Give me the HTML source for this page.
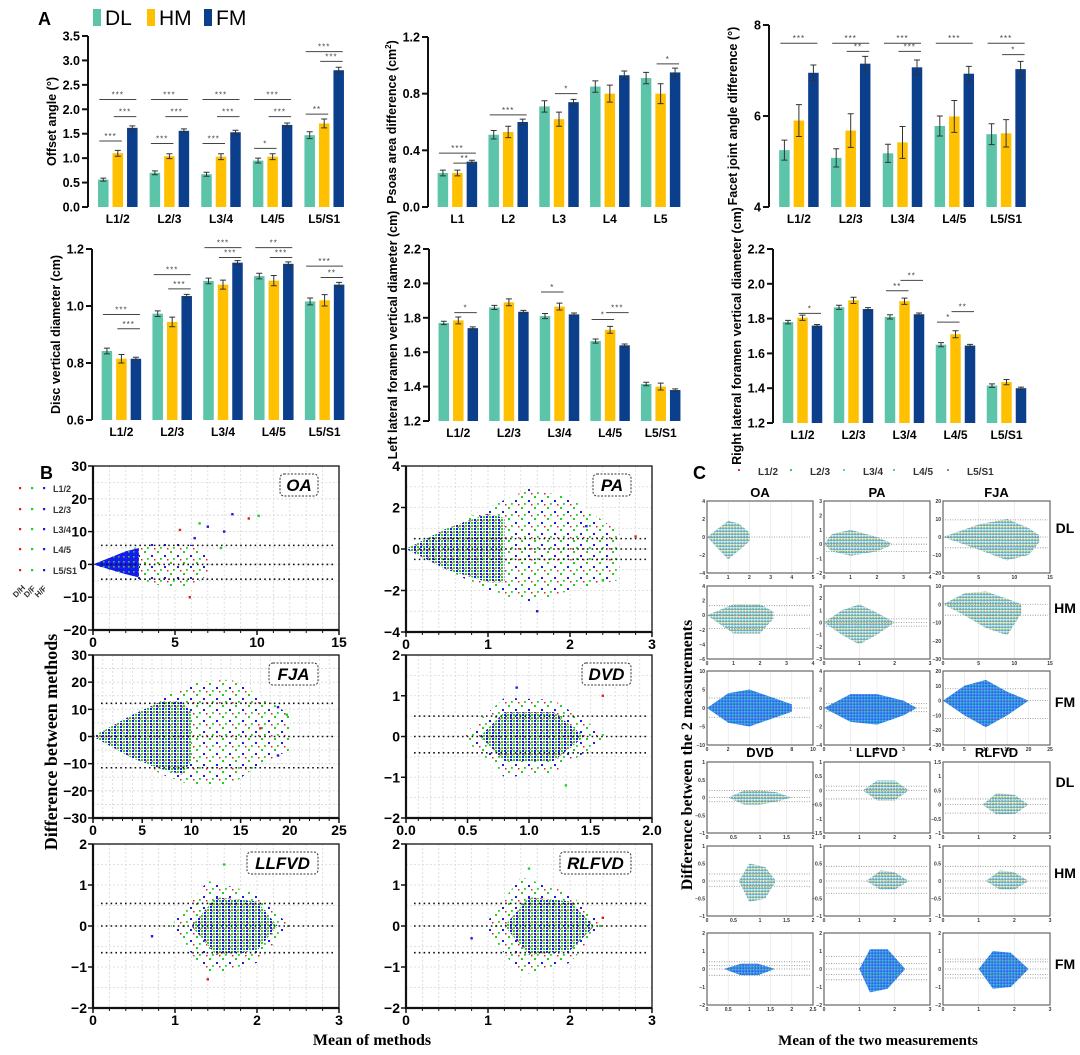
<!DOCTYPE html>
<html><head><meta charset="utf-8"><style>
html,body{margin:0;padding:0;background:#fff;}
svg{display:block;font-family:"Liberation Sans",sans-serif;}
</style></head><body>
<svg id="fig" xmlns="http://www.w3.org/2000/svg" width="1080" height="1055" viewBox="0 0 1080 1055">
<defs>
<pattern id="pBlue" width="5" height="5" patternUnits="userSpaceOnUse"><rect width="5" height="5" fill="#1818f0"/><rect x="3" y="1" width="1.6" height="1.6" fill="#2ed02e"/></pattern>
<pattern id="pMix" width="6" height="6" patternUnits="userSpaceOnUse"><rect width="6" height="6" fill="#fff"/><rect x="0" y="0" width="2" height="2" fill="#1a1ae8"/><rect x="3" y="3" width="2" height="2" fill="#22d022"/><rect x="3" y="0" width="2" height="2" fill="#22d022"/><rect x="0" y="3" width="2" height="2" fill="#1a1ae8"/><rect x="1.5" y="4.5" width="1.3" height="1.3" fill="#e02020"/></pattern>
<pattern id="pHalo" width="13" height="11" patternUnits="userSpaceOnUse"><rect width="13" height="11" fill="#fff"/><rect x="1" y="1" width="2" height="2" fill="#22d022"/><rect x="8" y="5" width="2" height="2" fill="#1a1ae8"/><rect x="4" y="8" width="1.8" height="1.8" fill="#22d022"/><rect x="11" y="9" width="1.5" height="1.5" fill="#e02020"/></pattern>
<pattern id="pC" width="3" height="3" patternUnits="userSpaceOnUse"><rect width="3" height="3" fill="#fff"/><rect x="0" y="0" width="1.2" height="1.2" fill="#20c8c8"/><rect x="1.6" y="1.6" width="1.2" height="1.2" fill="#30c850"/><rect x="1.6" y="0" width="1" height="1" fill="#4a5ae8"/><rect x="0" y="1.8" width="0.9" height="0.9" fill="#e05050"/></pattern>
<pattern id="pCd" width="3" height="3" patternUnits="userSpaceOnUse"><rect width="3" height="3" fill="#3c8cf0"/><rect x="0" y="0" width="1.2" height="1.2" fill="#30d0b0"/><rect x="1.6" y="1.6" width="1.2" height="1.2" fill="#3040f0"/></pattern>
</defs>
</svg>
<script>
// ===== Panel A data =====
const catsL = ["L1/2","L2/3","L3/4","L4/5","L5/S1"];
const catsP = ["L1","L2","L3","L4","L5"];
const a1DL=[0.56,0.70,0.67,0.95,1.47], a1HM=[1.10,1.04,1.03,1.03,1.71], a1FM=[1.62,1.56,1.53,1.68,2.80];
const a1eDL=[0.03,0.04,0.04,0.05,0.07], a1eHM=[0.06,0.05,0.06,0.06,0.09], a1eFM=[0.04,0.04,0.04,0.04,0.06];
const a1Ticks=[0,0.5,1,1.5,2,2.5,3,3.5], a1TickLbl=["0.0","0.5","1.0","1.5","2.0","2.5","3.0","3.5"];
const a1Sig=[[0,0,2,2.2,"***"],[0,1,2,1.85,"***"],[0,0,1,1.35,"***"],[1,0,2,2.2,"***"],[1,1,2,1.85,"***"],[1,0,1,1.3,"***"],[2,0,2,2.2,"***"],[2,1,2,1.85,"***"],[2,0,1,1.3,"***"],[3,0,2,2.2,"***"],[3,1,2,1.85,"***"],[3,0,1,1.2,"*"],[4,0,2,3.18,"***"],[4,1,2,2.98,"***"],[4,0,1,1.9,"**"]];
const a2DL=[0.24,0.51,0.71,0.85,0.91], a2HM=[0.24,0.53,0.62,0.80,0.80], a2FM=[0.32,0.60,0.74,0.93,0.95];
const a2eDL=[0.02,0.03,0.04,0.04,0.04], a2eHM=[0.02,0.04,0.05,0.06,0.07], a2eFM=[0.01,0.02,0.02,0.03,0.03];
const a2Ticks=[0,0.4,0.8,1.2], a2TickLbl=["0.0","0.4","0.8","1.2"];
const a2Sig=[[0,0,2,0.38,"***"],[0,1,2,0.31,"**"],[1,0,2,0.65,"***"],[2,1,2,0.80,"*"],[4,1,2,1.01,"*"]];
const a3DL=[5.25,5.08,5.18,5.78,5.60], a3HM=[5.90,5.68,5.42,5.99,5.62], a3FM=[6.95,7.15,7.07,6.93,7.03];
const a3eDL=[0.22,0.2,0.2,0.22,0.23], a3eHM=[0.35,0.37,0.35,0.35,0.3], a3eFM=[0.17,0.16,0.16,0.16,0.17];
const a3Ticks=[4,6,8], a3TickLbl=["4","6","8"];
const a3Sig=[[0,0,2,7.6,"***"],[1,0,2,7.6,"***"],[1,1,2,7.42,"**"],[2,0,2,7.6,"***"],[2,1,2,7.42,"***"],[3,0,2,7.6,"***"],[4,0,2,7.6,"***"],[4,1,2,7.35,"*"]];
const a4DL=[0.842,0.973,1.088,1.105,1.016], a4HM=[0.815,0.944,1.075,1.089,1.02], a4FM=[0.815,1.035,1.152,1.148,1.075];
const a4eDL=[0.01,0.01,0.01,0.01,0.012], a4eHM=[0.015,0.017,0.016,0.018,0.02], a4eFM=[0.005,0.006,0.007,0.007,0.008];
const a4Ticks=[0.6,0.8,1.0,1.2], a4TickLbl=["0.6","0.8","1.0","1.2"];
const a4Sig=[[0,0,2,0.97,"***"],[0,1,2,0.92,"***"],[1,0,2,1.11,"***"],[1,1,2,1.06,"***"],[2,0,2,1.205,"***"],[2,1,2,1.17,"***"],[3,0,2,1.205,"**"],[3,1,2,1.17,"***"],[4,0,2,1.14,"***"],[4,1,2,1.10,"**"]];
const a5DL=[1.77,1.86,1.81,1.665,1.415], a5HM=[1.785,1.89,1.865,1.73,1.40], a5FM=[1.74,1.835,1.82,1.64,1.38];
const a5eDL=[0.01,0.012,0.015,0.012,0.01], a5eHM=[0.02,0.02,0.02,0.02,0.02], a5eFM=[0.007,0.008,0.008,0.008,0.007];
const a5Ticks=[1.2,1.4,1.6,1.8,2.0,2.2], a5TickLbl=["1.2","1.4","1.6","1.8","2.0","2.2"];
const a5Sig=[[0,1,2,1.83,"*"],[2,0,1,1.95,"*"],[3,0,1,1.79,"*"],[3,1,2,1.83,"***"]];
const a6DL=[1.78,1.865,1.81,1.65,1.415], a6HM=[1.805,1.905,1.90,1.71,1.435], a6FM=[1.76,1.855,1.825,1.645,1.40];
const a6eDL=[0.01,0.012,0.012,0.012,0.01], a6eHM=[0.015,0.018,0.018,0.02,0.015], a6eFM=[0.006,0.008,0.007,0.007,0.006];
const a6Sig=[[0,1,2,1.83,"*"],[2,0,1,1.96,"**"],[2,1,2,2.02,"**"],[3,0,1,1.78,"*"],[3,1,2,1.84,"**"]];

// ===== Panel B data =====
const bTitles=["OA","PA","FJA","DVD","LLFVD","RLFVD"];
const bXTicks=[[0,5,10,15],[0,1,2,3],[0,5,10,15,20,25],[0,0.5,1,1.5,2],[0,1,2,3],[0,1,2,3]];
const bXTickLbl=[["0","5","10","15"],["0","1","2","3"],["0","5","10","15","20","25"],["0.0","0.5","1.0","1.5","2.0"],["0","1","2","3"],["0","1","2","3"]];
const bYTicks=[[-20,-10,0,10,20,30],[-4,-2,0,2,4],[-30,-20,-10,0,10,20,30],[-2,-1,0,1,2],[-2,-1,0,1,2],[-2,-1,0,1,2]];
const bLimits=[[5.8,0,-4.5],[0.5,0,-0.5],[12.2,0,-11.5],[0.5,0,-0.4],[0.55,0,-0.65],[0.55,0,-0.65]];
const bCoreX=[[0,1,2,2.8],[0,0.5,1,1.2],[0,4,7,9,10],[0.6,0.8,1.2,1.45],[1.2,1.5,2,2.25],[1.2,1.5,2,2.3]];
const bCoreHi=[[0,2,4,5],[0,1,1.7,1.5],[0,8,13,13,9],[0,0.6,0.6,0],[0,0.7,0.6,0],[0,0.7,0.6,0]];
const bCoreLo=[[0,-1.5,-3,-4],[0,-1,-1.6,-1.6],[0,-8,-12,-14,-9],[0,-0.6,-0.6,0],[0,-0.7,-0.6,0],[0,-0.7,-0.6,0]];
const bHaloX=[[0,3,4.5,6,7],[0,1,1.5,2,2.6],[0,7,10,14,17,20],[0.45,0.8,1.2,1.65],[0.95,1.4,2,2.4],[0.95,1.4,2,2.4]];
const bHaloHi=[[0,6,7,6,3],[0,2,2.9,2.5,0.8],[0,14,20,21,15,8],[0,0.95,0.9,0],[0,1.1,0.8,0],[0,1.2,0.8,0]];
const bHaloLo=[[0,-5,-7,-7,-3],[0,-2,-2.6,-2,-1.5],[0,-14,-18,-18,-10,-5],[0,-1,-0.9,0],[0,-1.2,-0.9,0],[0,-1.2,-0.9,0]];
const bOutX=[[8.5,10.1,9.5,7,6.5,5.9,8,7.8,5.3,6.2],[2.2,2.4,2.8,1.6],[18.8,19.7,17,18.8],[0.9,1.3,1.6],[0.72,1.6,1.4],[0.8,1.5,2.4]];
const bOutY=[[15.3,14.8,14,11.5,12.5,-10,10,5,10.5,8],[1.1,-1.5,0.6,-3],[10.8,8,3,-7],[1.2,-1.2,1],[-0.25,1.5,-1.3],[-0.3,1.4,0.2]];
const bXDom=[[0,15],[0,3],[0,25],[0,2],[0,3],[0,3]];
const bYDom=[[-20,30],[-4,4],[-30,30],[-2,2],[-2,2],[-2,2]];
const bXMinor=[1,0.2,1,0.1,0.2,0.2];

// ===== Panel C data =====
const cColTitles=["OA","PA","FJA","DVD","LLFVD","RLFVD"];
const cRowTitles=["DL","HM","FM","DL","HM","FM"];
const cXDom=[[0,5],[0,4],[0,15],[0,4],[0,3],[0,15],[0,10],[0,4],[0,25],[0,2],[0,3],[0,3],[0,2],[0,3],[0,3],[0,2.5],[0,3],[0,3]];
const cYDom=[[-4,4],[-2,3],[-20,20],[-6,4],[-3,3],[-30,10],[-10,10],[-4,4],[-30,20],[-1,1],[-1.5,1],[-1,1.5],[-1,1],[-1,1],[-1,1],[-2,2],[-2,2],[-2,2]];
const cXStep=[1,1,5,1,1,5,2,1,5,0.5,1,1,0.5,1,1,0.5,1,1];
const cYStep=[2,1,10,2,1,10,5,2,10,0.5,0.5,0.5,0.5,0.5,0.5,1,1,1];
const cLimits=[[0],[0.45,0,-0.5],[9.5,0,-6],[1.3,0,-1.8],[0.3,0,-0.3],[0,-6],[2.7,0,-2.5],[0.5,0,-0.4],[8,0,-12],[0.2,0,-0.12],[0.15,0,-0.3],[0.2,0,-0.3],[0.2,0,-0.15],[0.42,0.2,0,-0.2,-0.35],[0.42,0.2,0,-0.2,-0.35],[0.4,0.2,0,-0.35],[0.7,0.3,0,-0.3,-0.6],[0.55,0.4,0,-0.3,-0.5]];
const cEnvX=[[0,1,1.5,2],[0,0.3,1,2,2.5],[0,5,9,12,13.5],[0,1,2,2.5],[0,0.5,1,1.5,2],[0,3,6,9,11],[0,2,4,6,8],[0,1,2,3,3.5],[0,5,10,15,20],[0.4,0.7,1,1.3,1.6],[1.1,1.5,2,2.4],[1.1,1.5,2,2.4],[0.6,0.8,1.1,1.3],[1.2,1.6,2,2.4],[1.2,1.6,2,2.4],[0.4,0.8,1.2,1.6],[1,1.3,1.8,2.3],[1,1.4,1.9,2.4]];
const cEnvHi=[[0,1.8,1.5,0.5],[0,0.7,1,0.5,0.1],[0,7,10,5,1],[0,1.5,1.5,0.5],[0,1,1.5,0.8,0],[0,6,7,3,0],[0,4,5,3,1],[0,1.5,1.5,0.8,0],[0,10,14,6,0],[0,0.2,0.2,0.15,0],[0,0.35,0.35,0],[0,0.4,0.35,0],[0,0.5,0.4,0],[0,0.3,0.25,0],[0,0.3,0.25,0],[0,0.3,0.3,0],[0,1.1,1.1,0],[0,1,0.9,0]];
const cEnvLo=[[0,-2.5,-1.5,-0.5],[0,-0.5,-0.8,-0.5,-0.1],[0,-7,-13,-10,-3],[0,-2.5,-2.5,-0.5],[0,-1,-1.8,-1,0],[0,-6,-13,-17,-5],[0,-4,-5,-3,-1],[0,-1.5,-1.8,-0.8,0],[0,-10,-18,-10,0],[0,-0.2,-0.2,-0.12,0],[0,-0.35,-0.35,0],[0,-0.35,-0.35,0],[0,-0.6,-0.5,0],[0,-0.25,-0.25,0],[0,-0.25,-0.25,0],[0,-0.35,-0.35,0],[0,-1.3,-1.1,0],[0,-1.1,-1,0]];

// ===== helpers =====
const NS="http://www.w3.org/2000/svg";
const svg=document.getElementById('fig');
function mk(tag,attrs,parent){const e=document.createElementNS(NS,tag);for(const k in attrs)e.setAttribute(k,attrs[k]);(parent||svg).appendChild(e);return e;}
function txt(s,attrs,parent){const t=mk('text',attrs,parent);t.textContent=s;return t;}
const COL=["#5cc4a8","#ffc000","#0b3f8c"];
const fmtMinus=v=>String(v).replace('-','\u2212');

// ===== panel labels & legend =====
let t;
t=txt("A",{x:38,y:25,"font-size":18,"font-weight":"bold"});


t=txt("B",{x:40,y:479,"font-size":18,"font-weight":"bold"});


t=txt("C",{x:693,y:479,"font-size":18,"font-weight":"bold"});


const legNames=["DL","HM","FM"], legX=[93,147,204];
for(let i=0;i<3;i++){
  const g=mk('g',{});
  
  
  const r=mk('rect',{x:legX[i],y:9,width:8,height:17,fill:COL[i]},g);
  
  
  const tt=txt(legNames[i],{x:legX[i]+12,y:25,"font-size":21},g);
  
  
}

// ===== bar chart =====
function barChart(name,geo,cats,dl,hm,fm,edl,ehm,efm,ticks,tickLbl,sig,title){
  const g=mk('g',{});
  
  
  const y=v=>geo.bot-(v-geo.min)/(geo.max-geo.min)*(geo.bot-geo.top);
  const gw=(geo.x1-geo.ax-4)/cats.length;
  const cx=i=>geo.ax+4+(i+0.5)*gw;
  const bw=10.5, step=14.5;
  const bx=(i,j)=>cx(i)+(j-1)*step;
  const series=[dl,hm,fm], errs=[edl,ehm,efm], sn=["dl","hm","fm"];
  for(let i=0;i<cats.length;i++){
    for(let j=0;j<3;j++){
      const v=series[j][i], e=errs[j][i];
      const r=mk('rect',{x:bx(i,j)-bw/2,y:y(v),width:bw,height:geo.bot-y(v),fill:COL[j]},g);
      
      
      const eb=mk('path',{d:`M${bx(i,j)},${y(v+e)}V${y(v-e)}M${bx(i,j)-3},${y(v+e)}h6M${bx(i,j)-3},${y(v-e)}h6`,stroke:"#333",fill:"none","stroke-width":1},g);
      
      
    }
    const lb=txt(cats[i],{x:cx(i),y:geo.bot+16,"font-size":12,"font-weight":"bold","text-anchor":"middle"},g);
    
    
  }
  for(const s of sig){
    const x1=bx(s[0],s[1])-4, x2=bx(s[0],s[2])+4, yy=y(s[3]);
    const l=mk('line',{x1:x1,x2:x2,y1:yy,y2:yy,stroke:"#444","stroke-width":1},g);
    
    
    const st=txt(s[4],{x:(x1+x2)/2,y:yy-2,"font-size":8,fill:"#444","text-anchor":"middle","letter-spacing":"1"},g);
    
    
  }
  const ax=mk('line',{x1:geo.ax,x2:geo.ax,y1:y(geo.max),y2:geo.bot,stroke:"#111","stroke-width":2},g);
  
  
  ticks.forEach((v,k)=>{
    const tk=mk('line',{x1:geo.ax-6,x2:geo.ax,y1:y(v),y2:y(v),stroke:"#111","stroke-width":2},g);
    
    
    const tl=txt(tickLbl[k],{x:geo.ax-8,y:y(v)+4.5,"font-size":12.5,"font-weight":"bold","text-anchor":"end"},g);
    
    
  });
  const ty=(geo.top+geo.bot)/2, tx=geo.ax-32;
  const yt=txt("",{x:tx,y:ty,"font-size":12.5,"font-weight":"bold","text-anchor":"middle",transform:`rotate(-90 ${tx} ${ty})`},g);
  yt.innerHTML=title;
  
  
}
barChart('offset-angle-chart',{ax:88,x1:350,top:36,bot:207,min:0,max:3.5},catsL,a1DL,a1HM,a1FM,a1eDL,a1eHM,a1eFM,a1Ticks,a1TickLbl,a1Sig,"Offset angle (°)");
barChart('psoas-area-chart',{ax:428,x1:686,top:37,bot:207,min:0,max:1.2},catsP,a2DL,a2HM,a2FM,a2eDL,a2eHM,a2eFM,a2Ticks,a2TickLbl,a2Sig,"Psoas area difference (cm<tspan font-size='8' dy='-5'>2</tspan><tspan dy='5'>)</tspan>");
barChart('facet-joint-chart',{ax:769,x1:1032,top:25,bot:207,min:4,max:8},catsL,a3DL,a3HM,a3FM,a3eDL,a3eHM,a3eFM,a3Ticks,a3TickLbl,a3Sig,"Facet joint angle difference (°)");
barChart('disc-vertical-chart',{ax:92,x1:350,top:249,bot:420,min:0.6,max:1.2},catsL,a4DL,a4HM,a4FM,a4eDL,a4eHM,a4eFM,a4Ticks,a4TickLbl,a4Sig,"Disc vertical diameter (cm)");
barChart('left-foramen-chart',{ax:429,x1:686,top:249,bot:421,min:1.2,max:2.2},catsL,a5DL,a5HM,a5FM,a5eDL,a5eHM,a5eFM,a5Ticks,a5TickLbl,a5Sig,"Left lateral foramen vertical diameter (cm)");
barChart('right-foramen-chart',{ax:773,x1:1032,top:249,bot:423,min:1.2,max:2.2},catsL,a6DL,a6HM,a6FM,a6eDL,a6eHM,a6eFM,a5Ticks,a5TickLbl,a6Sig,"Right lateral foramen vertical diameter (cm)");

// ===== Panel B =====
const bGeo=[[93,339,466,630],[406,652,466,632],[93,339,655,818],[406,652,655,818],[93,339,844,1008],[406,652,844,1008]];
function envPath(xs,hi,lo,X,Y){let d="M"+X(xs[0])+","+Y(hi[0]);for(let i=1;i<xs.length;i++)d+="L"+X(xs[i])+","+Y(hi[i]);for(let i=xs.length-1;i>=0;i--)d+="L"+X(xs[i])+","+Y(lo[i]);return d+"Z";}
for(let p=0;p<6;p++){
  const [x0,x1,y0,y1]=bGeo[p];
  const X=v=>x0+(v-bXDom[p][0])/(bXDom[p][1]-bXDom[p][0])*(x1-x0);
  const Y=v=>y1-(v-bYDom[p][0])/(bYDom[p][1]-bYDom[p][0])*(y1-y0);
  const g=mk('g',{});
  
  
  const bg=mk('rect',{x:x0,y:y0,width:x1-x0,height:y1-y0,fill:"#fff"},g);
  
  
  for(let v=bXDom[p][0]+bXMinor[p];v<bXDom[p][1]-1e-9;v+=bXMinor[p]){
    const gl=mk('line',{x1:X(v),x2:X(v),y1:y0,y2:y1,stroke:"#d8d8d8","stroke-width":0.8,"stroke-dasharray":"2,2"},g);
    
    
    const mt=mk('line',{x1:X(v),x2:X(v),y1:y1,y2:y1+3,stroke:"#111","stroke-width":1},g);
    
    
  }
  const yt=bYTicks[p], ys=(yt[1]-yt[0])/2;
  for(let v=yt[0]+ys;v<yt[yt.length-1];v+=ys){
    const gl=mk('line',{x1:x0,x2:x1,y1:Y(v),y2:Y(v),stroke:"#d8d8d8","stroke-width":0.8,"stroke-dasharray":"2,2"},g);
    
    
  }
  const halo=mk('path',{d:envPath(bHaloX[p],bHaloHi[p],bHaloLo[p],X,Y),fill:"url(#pHalo)"},g);
  
  
  const core=mk('path',{d:envPath(bCoreX[p],bCoreHi[p],bCoreLo[p],X,Y),fill:p===0?"url(#pBlue)":"url(#pMix)"},g);
  
  
  const oc=["#1a1ae8","#22d022","#e02020"];
  bOutX[p].forEach((v,k)=>{
    const pt=mk('rect',{x:X(v)-1.2,y:Y(bOutY[p][k])-1.2,width:2.4,height:2.4,fill:oc[k%3]},g);
    
    
  });
  bLimits[p].forEach(v=>{
    const l=mk('line',{x1:x0+8,x2:x1-6,y1:Y(v),y2:Y(v),stroke:"#111","stroke-width":1.6,"stroke-dasharray":"1.6,3.2"},g);
    
    
  });
  const fr=mk('rect',{x:x0,y:y0,width:x1-x0,height:y1-y0,fill:"none",stroke:"#111","stroke-width":1.3},g);
  
  
  const ax=mk('path',{d:`M${x0},${y0}V${y1}H${x1}`,fill:"none",stroke:"#111","stroke-width":2.2},g);
  
  
  bXTicks[p].forEach((v,k)=>{
    const tk=mk('line',{x1:X(v),x2:X(v),y1:y1,y2:y1+5,stroke:"#111","stroke-width":1.5},g);
    
    
    const tl=txt(bXTickLbl[p][k],{x:X(v),y:y1+17,"font-size":14,"font-weight":"bold","text-anchor":"middle"},g);
    
    
  });
  bYTicks[p].forEach(v=>{
    const tk=mk('line',{x1:x0-5,x2:x0,y1:Y(v),y2:Y(v),stroke:"#111","stroke-width":1.5},g);
    
    
    const tl=txt(fmtMinus(v),{x:x0-6,y:Y(v)+5,"font-size":14,"font-weight":"bold","text-anchor":"end"},g);
    
    
  });
  const bw=bTitles[p].length*11+16;
  const box=mk('rect',{x:x1-21-bw,y:y0+8,width:bw,height:22,rx:4,fill:"#fff",stroke:"#333","stroke-width":1,"stroke-dasharray":"2,1.5"},g);
  
  
  const bl=txt(bTitles[p],{x:x1-21-bw/2,y:y0+25,"font-size":17,"font-weight":"bold","font-style":"italic","text-anchor":"middle"},g);
  
  
}
// B legend
const bLegNames=["L1/2","L2/3","L3/4","L4/5","L5/S1"], bLegY=[490,511,531,551,572];
bLegNames.forEach((n,i)=>{
  const g=mk('g',{});
  
  
  ["#e02020","#22d022","#1a1ae8"].forEach((c,k)=>{
    const d=mk('rect',{x:19+k*12,y:bLegY[i]-3,width:2.2,height:2.2,fill:c},g);
    
    
  });
  const tl=txt(n,{x:53,y:bLegY[i]+2,"font-size":9,"font-weight":"bold",fill:"#333"},g);
  
  
});
["D/H","D/F","H/F"].forEach((n,k)=>{
  const x=16+k*11, y=598;
  const tl=txt(n,{x:x,y:y,"font-size":8,"font-weight":"bold",fill:"#333",transform:`rotate(-45 ${x} ${y})`});
  
  
});
t=txt("Difference between methods",{x:57,y:742,"font-family":"Liberation Serif, serif","font-size":18,"font-weight":"bold","text-anchor":"middle",transform:"rotate(-90 57 742)"});


t=txt("Mean of methods",{x:372,y:1045,"font-family":"Liberation Serif, serif","font-size":16,"font-weight":"bold","text-anchor":"middle"});



// ===== Panel C =====
const cCols=[[707,813],[824,930],[943,1050]];
const cRows=[[501,573],[586,659],[671,745],[762,833],[846,916],[933,1005]];
for(let p=0;p<18;p++){
  const r=Math.floor(p/3), c=p%3;
  const [x0,x1]=cCols[c], [y0,y1]=cRows[r];
  const X=v=>x0+(v-cXDom[p][0])/(cXDom[p][1]-cXDom[p][0])*(x1-x0);
  const Y=v=>y1-(v-cYDom[p][0])/(cYDom[p][1]-cYDom[p][0])*(y1-y0);
  const g=mk('g',{});
  
  
  for(let v=cXDom[p][0];v<=cXDom[p][1]+1e-9;v+=cXStep[p]){
    const gl=mk('line',{x1:X(v),x2:X(v),y1:y0,y2:y1,stroke:"#e2e2e2","stroke-width":0.6},g);
    
    
    const tl=txt(String(Math.round(v*10)/10),{x:X(v),y:y1+6,"font-size":5,"font-weight":"bold","text-anchor":"middle",fill:"#333"},g);
    
    
  }
  for(let v=cYDom[p][0];v<=cYDom[p][1]+1e-9;v+=cYStep[p]){
    const tl=txt(fmtMinus(Math.round(v*10)/10),{x:x0-2,y:Y(v)+2,"font-size":5,"font-weight":"bold","text-anchor":"end",fill:"#333"},g);
    
    
  }
  const cl=mk('path',{d:envPath(cEnvX[p],cEnvHi[p],cEnvLo[p],X,Y),fill:(r===2||r===5)?"url(#pCd)":"url(#pC)"},g);
  
  
  cLimits[p].forEach(v=>{
    const l=mk('line',{x1:x0+2,x2:x1-2,y1:Y(v),y2:Y(v),stroke:"#888","stroke-width":0.8,"stroke-dasharray":"1,1.5"},g);
    
    
  });
  const fr=mk('rect',{x:x0,y:y0,width:x1-x0,height:y1-y0,fill:"none",stroke:"#666","stroke-width":1.2},g);
  
  
}
const cTitleY=[497,757];
for(let k=0;k<6;k++){
  const tl=txt(cColTitles[k],{x:(cCols[k%3][0]+cCols[k%3][1])/2,y:cTitleY[Math.floor(k/3)],"font-size":13,"font-weight":"bold","text-anchor":"middle"});
  
  
}
const cRowLblY=[533,613,707,787,878,969];
cRowTitles.forEach((n,k)=>{
  const tl=txt(n,{x:1065,y:cRowLblY[k],"font-size":14,"font-weight":"bold","text-anchor":"middle"});
  
  
});
const cLegN=["L1/2","L2/3","L3/4","L4/5","L5/S1"], cLegC=["#e03030","#30d050","#50d0d0","#60c0c0","#888"], cLegX=[738,790,843,893,947];
cLegN.forEach((n,k)=>{
  const d=mk('rect',{x:cLegX[k],y:469,width:2,height:2,fill:cLegC[k]});
  
  
  const tl=txt(n,{x:cLegX[k]+20,y:475,"font-size":10,"font-weight":"bold",fill:"#333"});
  
  
});
t=txt("Difference between the 2 measurements",{x:692,y:755,"font-family":"Liberation Serif, serif","font-size":16,"font-weight":"bold","text-anchor":"middle",transform:"rotate(-90 692 755)"});


t=txt("Mean of the two measurements",{x:878,y:1045,"font-family":"Liberation Serif, serif","font-size":15,"font-weight":"bold","text-anchor":"middle"});


</script>
</body></html>
